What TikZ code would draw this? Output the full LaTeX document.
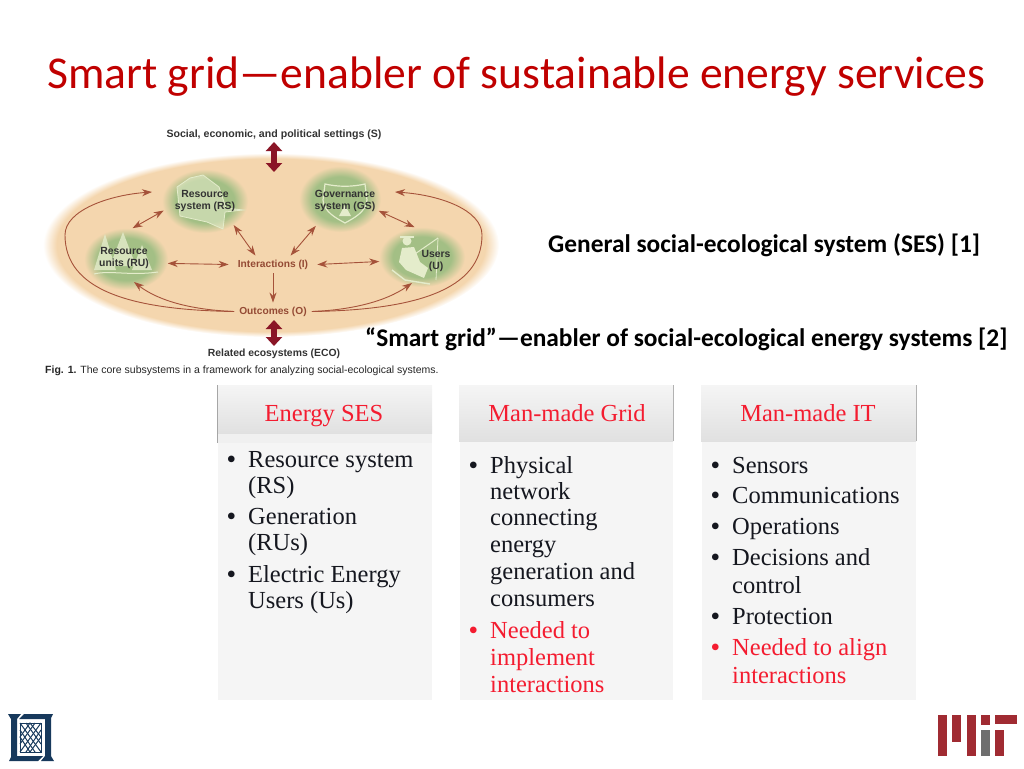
\documentclass[tikz,border=0pt]{standalone}
\usepackage{fontspec}
\setmainfont{Carlito}
\newfontfamily\cardfont{Liberation Serif}
\newfontfamily\figfont{Liberation Sans}
\usepackage{tikz}
\usetikzlibrary{arrows.meta,shapes.geometric}

\definecolor{titlered}{HTML}{C00000}
\definecolor{sespeach}{HTML}{F4D6AE}
\definecolor{sesgreen}{HTML}{A3BF85}
\definecolor{sesbrown}{HTML}{A5523A}
\definecolor{sesdark}{HTML}{8A1526}
\definecolor{paleicon}{HTML}{E4ECCB}
\definecolor{cardgrey}{HTML}{F5F5F5}
\definecolor{cardred}{HTML}{F41C30}
\definecolor{cardink}{HTML}{15171F}
\definecolor{mitred}{HTML}{A02B32}
\definecolor{mitgrey}{HTML}{6E6E6E}
\definecolor{logoblue}{HTML}{17395C}

\pgfdeclareradialshading{peachglow}{\pgfpoint{0bp}{0bp}}{color(0bp)=(sespeach); color(23.5bp)=(sespeach); color(25bp)=(white); color(50bp)=(white)}
\pgfdeclareradialshading{greenglow}{\pgfpoint{0bp}{0bp}}{color(0bp)=(sesgreen); color(17bp)=(sesgreen); color(25bp)=(sespeach); color(50bp)=(sespeach)}

\tikzset{
  blob/.style={ellipse, shading=greenglow, inner sep=0pt},
  seslabel/.style={align=center, inner sep=0pt, text=black!80, font=\figfont\bfseries\fontsize{10.4}{12}\selectfont},
  flowlabel/.style={inner xsep=#1, inner ysep=4pt, text=sesbrown!90!black, font=\figfont\bfseries\fontsize{10.2}{12}\selectfont},
  twoway/.style={{Stealth[length=10pt,width=7pt]}-{Stealth[length=10pt,width=7pt]}, sesbrown, line width=.9pt},
  oneway/.style={-{Stealth[length=10pt,width=7pt]}, sesbrown, line width=.9pt},
  bigarrow/.style={{Triangle[length=9pt,width=16pt]}-{Triangle[length=9pt,width=16pt]}, sesdark, line width=6pt},
  cardline/.style={anchor=base west, inner sep=0pt, text=cardink, font=\cardfont\fontsize{24.5}{26}\selectfont},
  cardhead/.style={anchor=base, inner sep=0pt, text=cardred, font=\cardfont\fontsize{24.5}{26}\selectfont},
  redline/.style={cardline, text=cardred},
  cardbullet/.style={cardline, font=\cardfont\bfseries\fontsize{24.5}{26}\selectfont},
  redbullet/.style={cardbullet, text=cardred},
  note/.style={anchor=base west, inner sep=0pt, font=\bfseries\fontsize{25.4}{28}\selectfont},
  logoline/.style={logoblue, line width=1pt},
}

\begin{document}
\begin{tikzpicture}[x=1pt, y=-1pt]
  \useasboundingbox (0,0) rectangle (1024,768);

  \node[anchor=base west, inner sep=0pt, text=titlered, font=\fontsize{45.6}{50}\selectfont] (title) at (47,88) {Smart grid---enabler of sustainable energy services};

  % framework figure
  \node[ellipse, shading=peachglow, minimum width=456pt, minimum height=184pt, inner sep=0pt] (ses) at (271,245) {};
  \node[blob, minimum width=86pt, minimum height=64pt] (rs) at (205,201) {};
  \node[blob, minimum width=82pt, minimum height=66pt] (gs) at (340,199) {};
  \node[blob, minimum width=84pt, minimum height=62pt] (ru) at (126,259) {};
  \node[blob, minimum width=86pt, minimum height=60pt] (u) at (422,257) {};

  % icons
  \draw[fill=paleicon, fill opacity=.55, draw=paleicon, line width=.8pt] (177,187) -- (190,178) -- (203,175) -- (219,187) -- (226,208) -- (243,210) -- (225,212) -- (223,229) -- (207,222) -- (180,216) -- cycle;
  \draw[paleicon, line width=1.2pt] (325,184) .. controls (338,187) and (352,187) .. (365,184) -- (367,200) .. controls (366,212) and (354,218) .. (345,223) .. controls (336,218) and (324,212) .. (323,200) -- cycle;
  \fill[paleicon] (345,205) -- (351,216) -- (339,216) -- cycle;
  \fill[paleicon, opacity=.8] (105,234) -- (116,270) -- (94,270) -- cycle;
  \fill[paleicon, opacity=.8] (123,232) -- (136,266) -- (110,266) -- cycle;
  \fill[paleicon, opacity=.8] (142,245) -- (152,270) -- (132,270) -- cycle;
  \draw[paleicon, line width=1pt] (94,274) .. controls (110,270) and (130,276) .. (158,272);
  \fill[paleicon] (407,241) circle (4.5pt);
  \fill[paleicon] (400,236) rectangle (414,238);
  \fill[paleicon] (402,248) -- (414,247) -- (420,262) -- (428,268) -- (424,278) -- (406,270) -- (399,262) -- cycle;
  \draw[paleicon, line width=1pt] (438,238) -- (412,256);
  \draw[paleicon, line width=.8pt] (438,238) -- (436,280);
  \draw[paleicon, line width=1.4pt] (392,270) -- (405,280) -- (430,284);

  \node[seslabel] (rslabel) at (205,201) {Resource\\system (RS)};
  \node[seslabel] (gslabel) at (345,201) {Governance\\system (GS)};
  \node[seslabel] (rulabel) at (124,258) {Resource\\units (RU)};
  \node[seslabel] (ulabel) at (436,261) {Users\\(U)};
  \node[flowlabel=9pt] (inter) at (273,264.5) {Interactions (I)};
  \node[flowlabel=5pt] (outc) at (273,311.5) {Outcomes (O)};

  \node[seslabel, font=\figfont\bfseries\fontsize{10.6}{12}\selectfont] (settings) at (274,134.5) {Social, economic, and political settings (S)};
  \node[seslabel] (eco) at (274,353.5) {Related ecosystems (ECO)};
  \node[anchor=west, inner sep=0pt, text=black!85, font=\figfont\fontsize{10.5}{12}\selectfont] (figcap) at (45,370.5) {\textbf{Fig. 1.} The core subsystems in a framework for analyzing social-ecological systems.};

  \coordinate (settingsend) at (274,172);
  \coordinate (ecoend) at (274,320);
  \coordinate (rsin) at (152,192);
  \coordinate (gsin) at (395,192);
  \coordinate (ruin) at (134,282);
  \coordinate (uin) at (412,283);

  \draw[bigarrow] (274,142) -- (settingsend);
  \draw[bigarrow] (ecoend) -- (274,346);

  \draw[twoway] (rs.193) -- (ru.78);
  \draw[twoway] (rs.-40) -- (inter.153);
  \draw[twoway] (gs.-17) -- (u.104);
  \draw[twoway] (gs.-132) -- (inter.27);
  \draw[twoway] (ru.-6) -- (inter.west);
  \draw[twoway] (inter.east) -- (u.-174);
  \draw[oneway] (inter.south) -- (outc.north);
  \draw[oneway] (outc.west) .. controls (195,310) and (160,302) .. (ruin);
  \draw[oneway] (outc.east) .. controls (350,310) and (385,302) .. (uin);
  \draw[oneway] (outc.west) .. controls (130,310) and (65,290) .. (65,235) .. controls (65,210) and (110,195) .. (rsin);
  \draw[oneway] (outc.east) .. controls (415,310) and (482,290) .. (482,235) .. controls (482,210) and (440,195) .. (gsin);

  \node[note] (sesnote) at (548,252) {General social-ecological system (SES) [1]};
  \node[note] (gridnote) at (365,346) {``Smart grid''---enabler of social-ecological energy systems [2]};

  % cards
  \fill[cardgrey] (218,435) rectangle (432,700);
  \fill[black!6] (218,433) rectangle (432,443);
  \shade[top color=cardgrey, bottom color=black!12] (218,385) rectangle (432,433);
  \draw[black!35, line width=1pt] (217,385) -- (217,443);
  \fill[cardgrey] (460,441) rectangle (673,700);
  \shade[top color=cardgrey, bottom color=black!12] (459,385) rectangle (673,441);
  \draw[black!30, line width=1pt] (673,385) -- (673,441);
  \fill[cardgrey] (702,441) rectangle (916,700);
  \shade[top color=cardgrey, bottom color=black!12] (701,385) rectangle (916,441);
  \draw[black!30, line width=1pt] (916,385) -- (916,441);

  \node[cardhead] (seshead) at (324,421) {Energy SES};
  \node[cardhead] (gridhead) at (567,421) {Man-made Grid};
  \node[cardhead] (ithead) at (808,421) {Man-made IT};

  \node[cardbullet] (sesbula) at (227,467) {•};
  \node[cardline] (sesa) at (248,467) {Resource system};
  \node[cardline] (sesb) at (248,493) {(RS)};
  \node[cardbullet] (sesbulb) at (227,524) {•};
  \node[cardline] (sesc) at (248,524) {Generation};
  \node[cardline] (sesd) at (248,550) {(RUs)};
  \node[cardbullet] (sesbulc) at (227,582) {•};
  \node[cardline] (sese) at (248,582) {Electric Energy};
  \node[cardline] (sesf) at (248,608) {Users (Us)};

  \node[cardbullet] (gridbula) at (469,473) {•};
  \node[cardline] (grida) at (490,473) {Physical};
  \node[cardline] (gridb) at (490,499) {network};
  \node[cardline] (gridc) at (490,525) {connecting};
  \node[cardline] (gridd) at (490,552) {energy};
  \node[cardline] (gride) at (490,579) {generation and};
  \node[cardline] (gridf) at (490,606) {consumers};
  \node[redbullet] (gridbulb) at (469,638) {•};
  \node[redline] (gridg) at (490,638) {Needed to};
  \node[redline] (gridh) at (490,665) {implement};
  \node[redline] (gridi) at (490,692) {interactions};

  \node[cardbullet] (itbula) at (711,473) {•};
  \node[cardline] (ita) at (732,473) {Sensors};
  \node[cardbullet] (itbulb) at (711,503) {•};
  \node[cardline] (itb) at (732,503) {Communications};
  \node[cardbullet] (itbulc) at (711,534) {•};
  \node[cardline] (itc) at (732,534) {Operations};
  \node[cardbullet] (itbuld) at (711,565) {•};
  \node[cardline] (itd) at (732,565) {Decisions and};
  \node[cardline] (ite) at (732,593) {control};
  \node[cardbullet] (itbule) at (711,624) {•};
  \node[cardline] (itf) at (732,624) {Protection};
  \node[redbullet] (itbulf) at (711,655) {•};
  \node[redline] (itg) at (732,655) {Needed to align};
  \node[redline] (ith) at (732,683) {interactions};

  % logos
  \fill[logoblue] (8,714) -- (21,714) -- (17,719) -- (17,756) -- (43,756) -- (38,761) -- (9,761) -- (11,757) -- (11,719) -- cycle;
  \fill[logoblue] (54,761) -- (41,761) -- (45,756) -- (45,719) -- (19,719) -- (24,714) -- (53,714) -- (51,718) -- (51,756) -- cycle;
  \draw[logoline] (20,723) rectangle (41,752);
  \draw[logoline] (20,723) -- (41,752);
  \draw[logoline] (41,723) -- (20,752);
  \draw[logoline] (20,737) -- (30,723) -- (41,737) -- (30,752) -- cycle;
  \draw[logoline] (26,723) -- (41,744);
  \draw[logoline] (35,723) -- (20,744);
  \draw[logoline] (20,730) -- (35,752);
  \draw[logoline] (41,730) -- (26,752);

  \fill[mitred] (938,715) rectangle (947,756);
  \fill[mitred] (952,715) rectangle (961,742);
  \fill[mitred] (967,715) rectangle (976,756);
  \fill[mitred] (981,715) rectangle (990,725);
  \fill[mitgrey] (981,730) rectangle (990,756);
  \fill[mitred] (995,715) rectangle (1017,724);
  \fill[mitred] (995,730) rectangle (1004,756);
\end{tikzpicture}
\end{document}
